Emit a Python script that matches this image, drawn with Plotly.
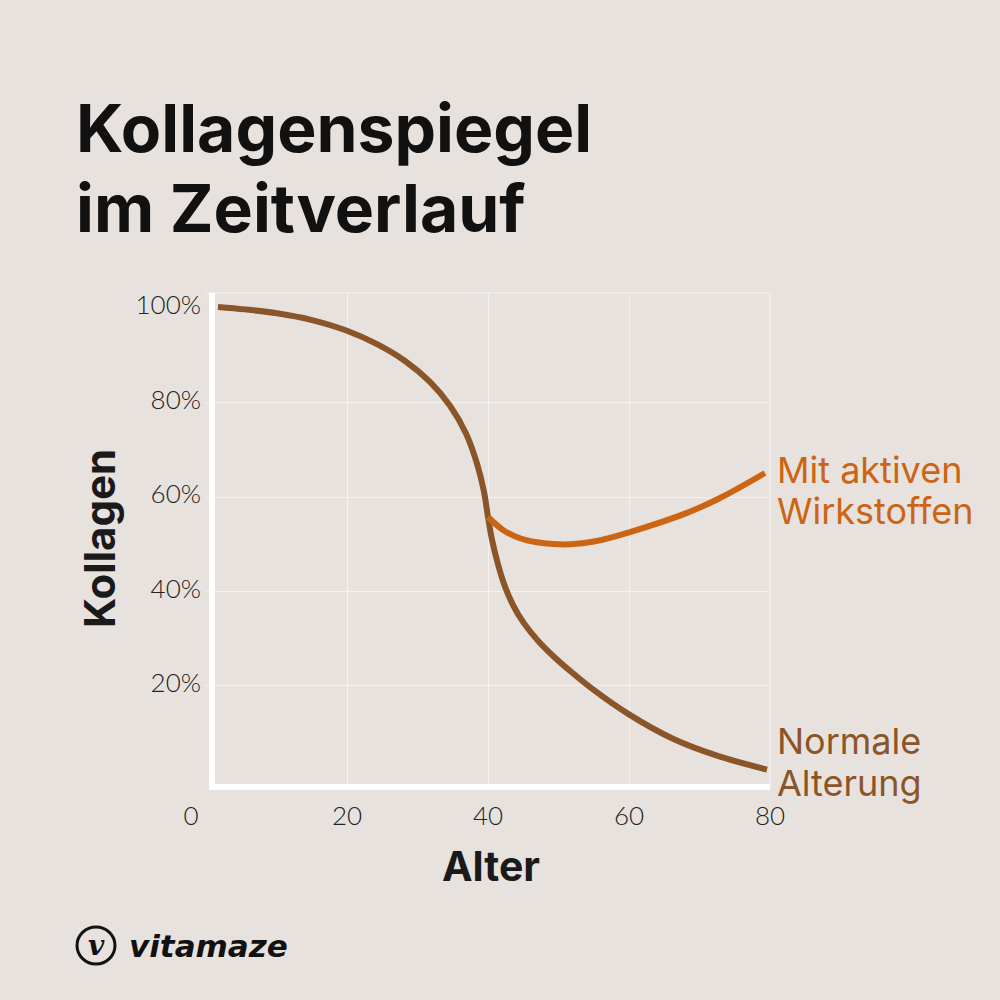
import plotly.graph_objects as go

# ---------------- data ----------------
age_normal = [1.70, 5.53, 10.07, 15.04, 20.0, 24.26, 28.23, 31.77, 34.61, 36.88, 38.44,
              39.43, 40.00, 40.57, 41.35, 42.27, 43.55, 45.11, 47.09, 49.50, 51.91,
              54.47, 60.0, 66.24, 72.48, 79.57]
coll_normal = [100.24, 99.73, 98.90, 97.46, 95.20, 92.36, 88.80, 84.36, 79.32, 73.45,
               67.06, 61.13, 55.77, 50.96, 46.12, 41.61, 37.12, 33.24, 29.58, 25.98,
               22.85, 19.75, 13.97, 8.81, 5.23, 2.29]

age_active = [40.0, 42.13, 44.54, 46.95, 49.22, 51.63, 55.04, 60.14, 68.23, 72.91, 79.29]
coll_active = [55.77, 53.03, 51.26, 50.41, 50.05, 49.99, 50.58, 52.59, 56.64, 59.80, 65.09]

x_ticks = [0, 20, 40, 60, 80]
x_ticktext = ["0\u2007\u2007", "20", "40", "60", "80"]
y_ticks = [20, 40, 60, 80, 100]
y_ticktext = ["20%", "40%", "60%", "80%", "100%"]
grid_x = [20, 40, 60, 80]
grid_y = [20, 40, 60, 80]

title_lines = ["Kollagenspiegel", "im Zeitverlauf"]
label_active = ["Mit aktiven", "Wirkstoffen"]
label_normal = ["Normale", "Alterung"]

# ---------------- style ----------------
BG = "#e8e2df"
GRID = "#f4f1ef"
BROWN = "#8a5528"
ORANGE = "#cc6513"
INK = "#111111"
FONT = "Inter"
TICKFONT = "Lato"

# plot area in pixels
L, R, T, B = 206, 770, 293, 787
XR = [0, 80]
YR = [-1.4, 103.2]


def px_x(p):
    return (p - L) / (R - L)


def px_y(p):
    return (B - p) / (B - T)


fig = go.Figure()

# invisible trace to make the grid axes render (drawn first, below)
fig.add_trace(go.Scatter(x=[None], y=[None], xaxis="x2", yaxis="y2",
                         mode="lines", showlegend=False, hoverinfo="skip"))
fig.add_trace(go.Scatter(
    x=age_normal, y=coll_normal, mode="lines",
    line=dict(color=BROWN, width=6, shape="spline", smoothing=1),
    hoverinfo="skip", showlegend=False))
fig.add_trace(go.Scatter(
    x=age_active, y=coll_active, mode="lines",
    line=dict(color=ORANGE, width=6, shape="spline", smoothing=1),
    hoverinfo="skip", showlegend=False))

tickfont = dict(size=26, family=TICKFONT, weight=300, color="#222222")

fig.update_layout(
    width=1000, height=1000,
    paper_bgcolor=BG, plot_bgcolor=BG,
    margin=dict(l=L, r=1000 - R, t=T, b=1000 - B, pad=0),
    font=dict(family=FONT, color=INK),
    xaxis=dict(
        range=XR, tickmode="array", tickvals=x_ticks, ticktext=x_ticktext,
        showgrid=False, zeroline=False, showline=False, ticks="",
        tickfont=tickfont, ticklabelstandoff=11, fixedrange=True,
    ),
    yaxis=dict(
        range=YR, tickmode="array", tickvals=y_ticks, ticktext=y_ticktext,
        showgrid=False, zeroline=False, showline=False, ticks="",
        tickfont=tickfont, ticklabelstandoff=4, ticklabelshift=-3, fixedrange=True,
    ),
    xaxis2=dict(
        range=XR, overlaying="x", tickmode="array", tickvals=grid_x,
        showgrid=True, gridcolor=GRID, gridwidth=1.2, showticklabels=False,
        zeroline=False, showline=False, ticks="", fixedrange=True,
    ),
    yaxis2=dict(
        range=YR, overlaying="y", tickmode="array", tickvals=grid_y,
        showgrid=True, gridcolor=GRID, gridwidth=1.2, showticklabels=False,
        zeroline=False, showline=False, ticks="", fixedrange=True,
    ),
)

# frame lines
fig.add_shape(type="line", xref="paper", yref="paper", x0=0, x1=1, y0=1, y1=1,
              line=dict(color=GRID, width=1.2), layer="below")
fig.add_shape(type="line", xref="paper", yref="paper", x0=1, x1=1, y0=0, y1=1,
              line=dict(color=GRID, width=1.2), layer="below")
fig.add_shape(type="line", xref="paper", yref="paper", x0=px_x(212), x1=px_x(212),
              y0=px_y(790), y1=1, line=dict(color="white", width=6))
fig.add_shape(type="line", xref="paper", yref="paper", x0=px_x(209), x1=1,
              y0=px_y(787), y1=px_y(787), line=dict(color="white", width=6))

# title (two lines)
for txt, yc in zip(title_lines, [128, 208]):
    fig.add_annotation(text=txt, xref="paper", yref="paper",
                       x=px_x(74), y=px_y(yc), xanchor="left", yanchor="middle",
                       align="left", showarrow=False,
                       font=dict(size=66, family=FONT, weight=700, color=INK))

# axis titles
fig.add_annotation(text="Alter", xref="paper", yref="paper",
                   x=px_x(491), y=px_y(866), xanchor="center", yanchor="middle",
                   showarrow=False, font=dict(size=41, family=FONT, weight=700, color="#1a1a1a"))
fig.add_annotation(text="Kollagen", xref="paper", yref="paper", textangle=-90,
                   x=px_x(99), y=px_y(539), xanchor="center", yanchor="middle",
                   showarrow=False, font=dict(size=42, family=FONT, weight=700, color="#1a1a1a"))

# line labels (one annotation per line for tight spacing)
for txt, yc in zip(label_active, [470, 511]):
    fig.add_annotation(text=txt, xref="paper", yref="paper",
                       x=px_x(775), y=px_y(yc), xanchor="left", yanchor="middle",
                       align="left", showarrow=False,
                       font=dict(size=36, family=FONT, weight=400, color=ORANGE))
for txt, yc in zip(label_normal, [741, 783]):
    fig.add_annotation(text=txt, xref="paper", yref="paper",
                       x=px_x(775), y=px_y(yc), xanchor="left", yanchor="middle",
                       align="left", showarrow=False,
                       font=dict(size=36, family=FONT, weight=400, color=BROWN))

# logo
fig.add_shape(type="circle", xref="paper", yref="paper",
              x0=px_x(77), x1=px_x(115), y0=px_y(964), y1=px_y(927),
              line=dict(color=INK, width=3))
fig.add_annotation(text="v", xref="paper", yref="paper",
                   x=px_x(96), y=px_y(945), xanchor="center", yanchor="middle",
                   showarrow=False,
                   font=dict(size=28, family="DejaVu Serif", weight=700, style="italic", color=INK))
fig.add_annotation(text="vitamaze", xref="paper", yref="paper",
                   x=px_x(127), y=px_y(946), xanchor="left", yanchor="middle",
                   showarrow=False,
                   font=dict(size=31, family="DejaVu Sans", weight=700, style="italic", color=INK))

fig.write_html("out.html", config={"displayModeBar": False},
               post_script="document.body.style.margin='0';document.body.style.overflow='hidden';")
